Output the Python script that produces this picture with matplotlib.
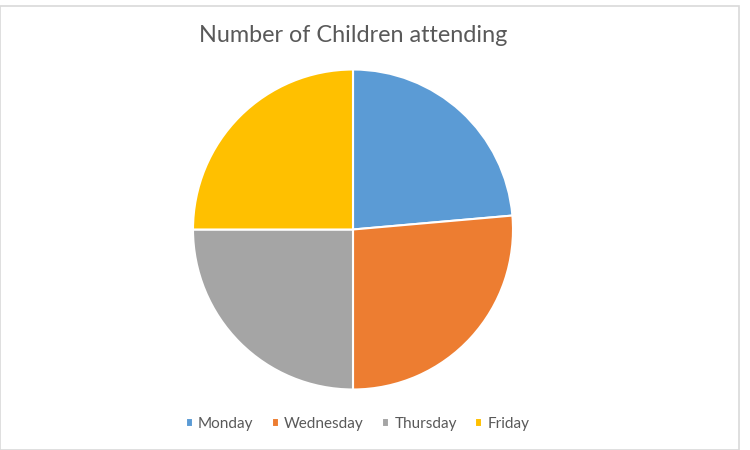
import matplotlib.pyplot as plt
from matplotlib.patches import Rectangle

days = ['Monday', 'Wednesday', 'Thursday', 'Friday']
children = [17, 19, 18, 18]
colours = ['#5B9BD5', '#ED7D31', '#A5A5A5', '#FFC000']

plt.rcParams['font.family'] = ['Lato', 'DejaVu Sans']

fig = plt.figure(figsize=(7.5, 4.5), dpi=100)
W, H = 750, 450

# light grey chart border
fig.patches.append(Rectangle((0, 0), 739 / W, 444 / H, transform=fig.transFigure,
                             fill=False, edgecolor='#D9D9D9', linewidth=1.2))

# pie axes placed in pixels: centre (353, 229.5), radius 160
cx, cy, r = 353, 229.5, 160
ax = fig.add_axes([(cx - r) / W, (H - cy - r) / H, 2 * r / W, 2 * r / H])
wedges, _ = ax.pie(children, colors=colours, startangle=90, counterclock=False,
                   wedgeprops=dict(edgecolor='white', linewidth=1.5))
ax.set_xlim(-1, 1)
ax.set_ylim(-1, 1)

fig.text(353 / W, 1 - 35 / H, 'Number of Children attending', ha='center', va='center',
         fontsize=16.8, color='#595959')

fig.legend(wedges, days, loc='center', bbox_to_anchor=(357.5 / W, 1 - 424 / H), ncol=4,
           frameon=False, fontsize=11, labelcolor='#595959', handlelength=0.45,
           handleheight=0.45, handletextpad=0.35, columnspacing=1.2)

plt.savefig('out.png', dpi=100)
